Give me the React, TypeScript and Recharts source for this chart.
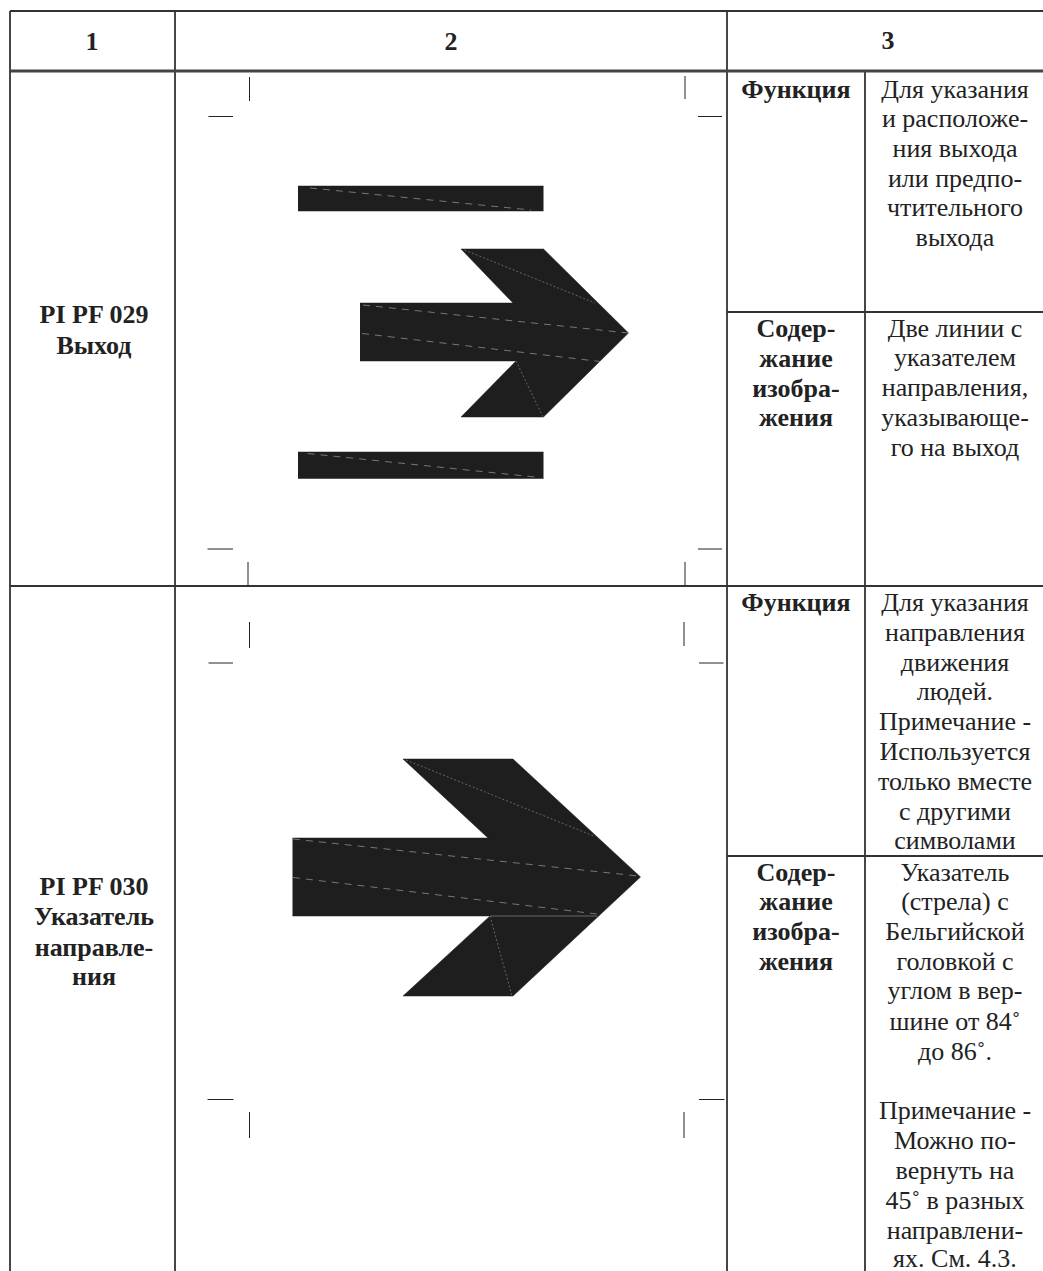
import { ComposedChart, Area, Line, Scatter, XAxis, YAxis } from "recharts";

const W = 1043;
const H = 1271;

// grid rules, [x1, y1, x2, y2] in page units
const frameLines = [
  [10, 11, 1043, 11],
  [10, 11, 10, 1271],
  [175, 11, 175, 1271],
  [727, 11, 727, 1271],
  [865, 71, 865, 1271],
  [10, 586, 1043, 586],
  [727, 312, 1043, 312],
  [727, 856, 1043, 856],
];
const headerRule = [[10, 71, 1043, 71]];

const cornerMarks = [
  [249.5, 77, 249.5, 101],
  [685, 76, 685, 99],
  [208.5, 116.5, 233, 116.5],
  [698, 116.5, 722, 116.5],
  [207.5, 549, 233, 549],
  [698, 549, 722, 549],
  [248, 562, 248, 586],
  [685, 562, 685, 586],
  [249.5, 622, 249.5, 648],
  [684, 622, 684, 646],
  [208.5, 663, 233, 663],
  [699, 663, 723.5, 663],
  [207.5, 1099.5, 233.5, 1099.5],
  [699, 1099.5, 724.5, 1099.5],
  [249.5, 1112, 249.5, 1138],
  [684, 1112, 684, 1138],
];

// filled pieces of the symbols: x, top, bottom
const bars = [
  [[298, 186, 211], [543.5, 186, 211]],
  [[298, 452, 478.5], [543.5, 452, 478.5]],
];
const arrowOne = [
  [[360, 303, 361], [516, 303, 361]],
  [[461, 249, 249], [513, 249, 303], [516, 249, 303]],
  [[461, 417, 417], [516, 361, 417]],
  [[516, 249, 417], [543.5, 249, 417], [628.5, 333, 333]],
];
const arrowTwo = [
  [[292.5, 838, 916], [490, 838, 916]],
  [[403, 759, 759], [488, 759, 838], [490, 759, 838]],
  [[403, 996, 996], [490, 916, 996]],
  [[490, 759, 996], [513, 759, 996], [640.5, 877, 877]],
];

const dashedSeams = [
  [310, 188, 531, 210],
  [307.5, 453.5, 540, 477.5],
  [363, 305, 628, 333],
  [362, 333.5, 600, 361.5],
  [293, 839, 638, 876],
  [293, 877.5, 597, 914],
];
const dottedSeams = [
  [464.5, 250, 595, 303],
  [516, 361, 543, 417],
  [406, 760, 595, 836.5],
  [490, 916, 512, 996],
];
const seamRule = [[490, 916, 597, 916]];

// text: x centre, baseline, string
const boldText = [
  [92, 50, "1"],
  [451, 50, "2"],
  [888, 49, "3"],
  [94, 323, "PI PF 029"],
  [94, 354, "Выход"],
  [94, 895, "PI PF 030"],
  [94, 925, "Указатель"],
  [94, 956, "направле-"],
  [94, 985, "ния"],
  [796, 98, "Функция"],
  [796, 337, "Содер-"],
  [796, 367, "жание"],
  [796, 397, "изобра-"],
  [796, 426, "жения"],
  [796, 611, "Функция"],
  [796, 881, "Содер-"],
  [796, 910, "жание"],
  [796, 940, "изобра-"],
  [796, 970, "жения"],
];
const plainText = [
  [955, 98, "Для указания"],
  [955, 127, "и расположе-"],
  [955, 157, "ния выхода"],
  [955, 187, "или предпо-"],
  [955, 216, "чтительного"],
  [955, 246, "выхода"],
  [955, 337, "Две линии с"],
  [955, 366, "указателем"],
  [955, 396, "направления,"],
  [955, 426, "указывающе-"],
  [955, 456, "го на выход"],
  [955, 611, "Для указания"],
  [955, 641, "направления"],
  [955, 671, "движения"],
  [955, 700, "людей."],
  [955, 730, "Примечание -"],
  [955, 760, "Используется"],
  [955, 790, "только вместе"],
  [955, 820, "с другими"],
  [955, 849, "символами"],
  [955, 881, "Указатель"],
  [955, 910, "(стрела) с"],
  [955, 940, "Бельгийской"],
  [955, 970, "головкой с"],
  [955, 999, "углом в вер-"],
  [955, 1030, "шине от 84˚"],
  [955, 1060, "до 86˚."],
  [955, 1119, "Примечание -"],
  [955, 1149, "Можно по-"],
  [955, 1179, "вернуть на"],
  [955, 1209, "45˚ в разных"],
  [955, 1239, "направлени-"],
  [955, 1267, "ях. См. 4.3."],
];

const toSegment = ([x1, y1, x2, y2]: number[]) => [
  { x: x1, y: y1 },
  { x: x2, y: y2 },
];
const toPiece = (piece: number[][]) =>
  piece.map(([x, top, bottom]) => ({ x, range: [top, bottom] }));
const toLabels = (rows: (number | string)[][]) =>
  rows.map(([x, y, text]) => ({ x, y, text }));

const labelShape = (weight: string) => (props: any) => (
  <text
    x={props.cx}
    y={props.cy}
    textAnchor="middle"
    fontFamily="'Liberation Serif', serif"
    fontSize={26}
    fontWeight={weight}
    fill="#222"
  >
    {props.payload.text}
  </text>
);

const rules = (rows: number[][], name: string, stroke: string, width: number, dash?: string) =>
  rows.map((row, i) => (
    <Line
      key={`${name}-${i}`}
      data={toSegment(row)}
      dataKey="y"
      stroke={stroke}
      strokeWidth={width}
      strokeDasharray={dash}
      dot={false}
      activeDot={false}
      isAnimationActive={false}
    />
  ));

export default function App() {
  return (
    <div style={{ position: "absolute", left: 0, top: 0, width: W, height: H, overflow: "hidden" }}>
      <ComposedChart width={W} height={H} margin={{ top: 0, right: 0, bottom: 0, left: 0 }}>
        <XAxis type="number" dataKey="x" domain={[0, W]} hide allowDataOverflow />
        <YAxis type="number" dataKey="y" domain={[0, H]} reversed hide allowDataOverflow />
        {[...bars, ...arrowOne, ...arrowTwo].map((piece, i) => (
          <Area
            key={`piece-${i}`}
            data={toPiece(piece)}
            dataKey="range"
            type="linear"
            fill="#1e1e1e"
            fillOpacity={1}
            stroke="#1e1e1e"
            strokeWidth={0.5}
            dot={false}
            activeDot={false}
            isAnimationActive={false}
          />
        ))}
        {rules(dashedSeams, "dash", "#777", 1, "7 6")}
        {rules(dottedSeams, "dot", "#666", 1, "2 2")}
        {rules(seamRule, "seam", "#666", 1)}
        {rules(frameLines, "frame", "#333", 1.8)}
        {rules(headerRule, "header", "#444", 3)}
        {rules(cornerMarks, "mark", "#222", 1)}
        <Scatter data={toLabels(boldText)} shape={labelShape("bold")} isAnimationActive={false} />
        <Scatter data={toLabels(plainText)} shape={labelShape("normal")} isAnimationActive={false} />
      </ComposedChart>
    </div>
  );
}
